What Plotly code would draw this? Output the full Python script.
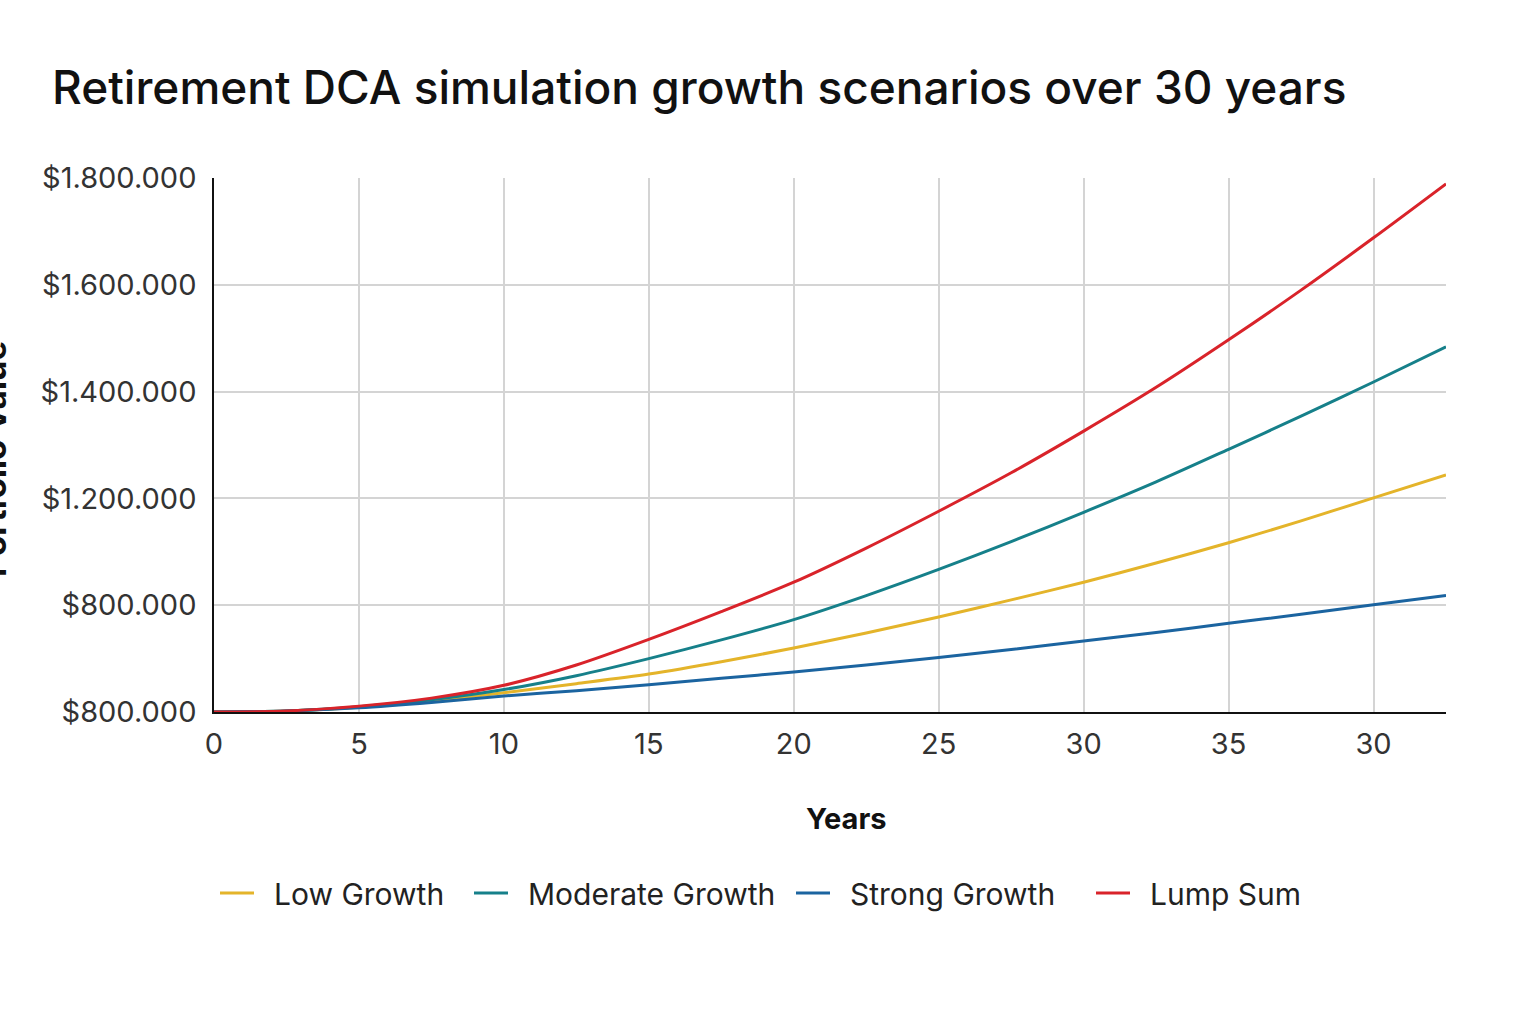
import plotly.graph_objects as go

# --- Data (values in thousands of dollars) ---
years = [0, 2.5, 5, 7.5, 10, 12.5, 15, 17.5, 20, 22.5, 25, 27.5, 30, 32.5, 35, 37.5, 40, 42.5]

low_growth = [800, 802, 809, 821, 836, 853, 871, 894, 920, 948, 978, 1010, 1043, 1079, 1117, 1158, 1201, 1244]
moderate_growth = [800, 802, 810, 823, 842, 868, 900, 935, 973, 1018, 1067, 1119, 1174, 1231, 1292, 1354, 1418, 1484]
strong_growth = [800, 802, 808, 818, 830, 840, 851, 863, 875, 888, 902, 917, 933, 949, 966, 983, 1001, 1018]
lump_sum = [800, 802, 811, 826, 850, 888, 936, 988, 1043, 1107, 1176, 1248, 1326, 1408, 1497, 1590, 1688, 1789]

# tick labels exactly as printed on the original
x_tickvals = [0, 5, 10, 15, 20, 25, 30, 35, 40]
x_ticktext = ["0", "5", "10", "15", "20", "25", "30", "35", "30"]
y_tickvals = [800, 1000, 1200, 1400, 1600, 1800]
y_ticktext = ["$800.000", "$800.000", "$1.200.000", "$1.400.000", "$1.600.000", "$1.800.000"]

series_names = ["Low Growth", "Moderate Growth", "Strong Growth", "Lump Sum"]
series_values = [low_growth, moderate_growth, strong_growth, lump_sum]
series_colors = ["#E4B42A", "#16808A", "#1B64A0", "#D9232A"]

FONT = "Inter, 'Noto Sans', sans-serif"

W, H = 1536, 1024
L, R, T, B = 214, 90, 178, 312
PW, PH = W - L - R, H - T - B  # plot area in pixels


def px_x(px):
    return (px - L) / PW


def px_y(py):
    return (H - B - py) / PH


fig = go.Figure()
legend_ids = ["legend", "legend2", "legend3", "legend4"]
for name, vals, color, lg in zip(series_names, series_values, series_colors, legend_ids):
    fig.add_trace(go.Scatter(
        x=years,
        y=[v * 1000 for v in vals],
        mode="lines",
        name="\u2002" + name,  # en space: wider gap between symbol and label
        legend=lg,
        line=dict(color=color, width=3, shape="spline", smoothing=0.8),
    ))

# one legend per series so each entry sits where it does in the original
legend_x = [px_x(215), px_x(469), px_x(791), px_x(1091)]
legend_style = dict(
    orientation="h",
    xanchor="left",
    yanchor="middle",
    y=px_y(893),
    itemwidth=34,
    font=dict(family=FONT, size=30, color="#222222"),
    bgcolor="rgba(0,0,0,0)",
)

fig.update_layout(
    width=W,
    height=H,
    paper_bgcolor="white",
    plot_bgcolor="white",
    margin=dict(l=L, r=R, t=T, b=B),
    font=dict(family=FONT, color="#333333"),
    title=dict(
        text="Retirement DCA simulation growth scenarios over 30 years",
        x=52 / W, xanchor="left", xref="container",
        y=1 - 88 / H, yanchor="middle", yref="container",
        font=dict(family=FONT, size=46, color="#111111", weight=500),
    ),
    showlegend=True,
    legend=dict(x=legend_x[0], **legend_style),
    legend2=dict(x=legend_x[1], **legend_style),
    legend3=dict(x=legend_x[2], **legend_style),
    legend4=dict(x=legend_x[3], **legend_style),
)

fig.update_xaxes(
    range=[0, 42.5],
    tickvals=x_tickvals,
    ticktext=x_ticktext,
    tickfont=dict(size=29, color="#333333"),
    ticklabelstandoff=5,
    showgrid=True,
    gridcolor="#d4d4d4",
    gridwidth=1.5,
    showline=True,
    linecolor="#111111",
    linewidth=2,
    zeroline=False,
    ticks="",
)

fig.update_yaxes(
    range=[800000, 1800000],
    tickvals=[v * 1000 for v in y_tickvals],
    ticktext=y_ticktext,
    tickfont=dict(size=29, color="#333333"),
    ticklabelstandoff=10,
    showgrid=True,
    gridcolor="#d4d4d4",
    gridwidth=1.5,
    showline=True,
    linecolor="#111111",
    linewidth=1.5,
    zeroline=False,
    ticks="",
)

# --- Axis titles (y title is cut off at the left edge in the original) ---
fig.add_annotation(
    text="<b>Years</b>",
    xref="paper", yref="paper",
    x=px_x(846), y=px_y(818),
    xanchor="center", yanchor="middle",
    showarrow=False,
    font=dict(family=FONT, size=29, color="#111111"),
)
fig.add_annotation(
    text="<b>Portfolio Value</b>",
    xref="paper", yref="paper",
    x=px_x(-6), y=px_y(459),
    xanchor="center", yanchor="middle",
    textangle=-90,
    showarrow=False,
    font=dict(family=FONT, size=33, color="#111111"),
)

# drop the default 8px body margin so the figure fills the window exactly
fig.write_html(
    "out.html",
    config={"displayModeBar": False},
    post_script="document.body.style.margin = '0px';",
)
